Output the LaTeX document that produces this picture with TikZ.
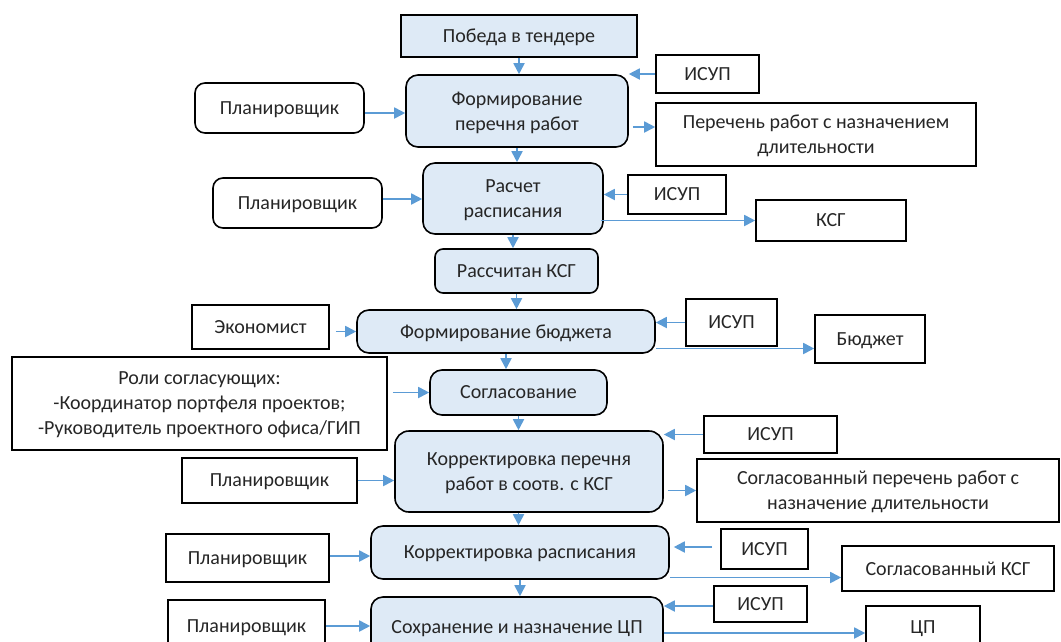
\documentclass[tikz,border=0pt]{standalone}
\usepackage{fontspec}
\setmainfont{Carlito}
\usepackage{tikz}
\usetikzlibrary{arrows.meta}
\definecolor{boxblue}{HTML}{DEEAF6}
\definecolor{flowblue}{HTML}{5B9BD5}

\begin{document}
\begin{tikzpicture}[x=1pt,y=-1pt,
    font=\fontsize{20}{25}\selectfont,
    every node/.style={text=black!85, inner sep=0pt, align=center, text depth=0pt},
    evt/.style={draw, line width=1.6pt, fill=boxblue},
    proc/.style={draw, line width=1.6pt, fill=boxblue, rounded corners=12pt},
    actor/.style={draw, line width=1.6pt, rounded corners=10pt},
    ext/.style={draw, line width=1.6pt},
    flow/.style={draw=flowblue, line width=1.8pt, -{Triangle[length=11pt,width=11pt]}, flowblue}
    ]
    \useasboundingbox (0,0) rectangle (1061,641);
    \clip (0,0) rectangle (1061,641);
    % main chain
    \node[evt, minimum width=236, minimum height=42] (pobeda) at (519,36) {Победа в тендере};
    \node[proc, minimum width=222, minimum height=72] (form1) at (517,111) {Формирование\\перечня работ};
    \node[proc, minimum width=180, minimum height=71] (raschet) at (513,198.5) {Расчет\\расписания};
    \node[proc, minimum width=163, minimum height=44, rounded corners=8pt] (rasschitan) at (516.5,271) {Рассчитан КСГ};
    \node[proc, minimum width=298, minimum height=43] (bform) at (506,331.5) {Формирование бюджета};
    \node[proc, minimum width=177, minimum height=45] (soglas) at (518.5,392.5) {Согласование};
    \node[proc, minimum width=268, minimum height=81, rounded corners=14pt] (korr1) at (529,471.5) {Корректировка перечня\\работ в соотв. с КСГ};
    \node[proc, minimum width=298, minimum height=53] (korr2) at (520,552.5) {Корректировка расписания};
    \node[proc, minimum width=292, minimum height=60] (sohr) at (517,627) {Сохранение и назначение ЦП};
    % roles on the left
    \node[actor, minimum width=169, minimum height=50] (plan1) at (279.5,108) {Планировщик};
    \node[actor, minimum width=169, minimum height=50] (plan2) at (297.5,203) {Планировщик};
    \node[ext, minimum width=137, minimum height=44] (ekon) at (260.5,327) {Экономист};
    \node[ext, minimum width=375, minimum height=93] (roli) at (199.5,403.5) {Роли согласующих:\\-Координатор портфеля проектов;\\-Руководитель проектного офиса/ГИП};
    \node[ext, minimum width=175, minimum height=45] (plan3) at (269.5,480.5) {Планировщик};
    \node[ext, minimum width=163, minimum height=48] (plan4) at (247.5,558) {Планировщик};
    \node[ext, minimum width=157, minimum height=52] (plan5) at (246.5,626) {Планировщик};
    % systems and results on the right
    \node[ext, minimum width=103, minimum height=38] (isup1) at (707.5,74) {ИСУП};
    \node[ext, minimum width=320, minimum height=63] (perechen) at (816,134.5) {Перечень работ с назначением\\длительности};
    \node[ext, minimum width=98, minimum height=39] (isup2) at (677,194.5) {ИСУП};
    \node[ext, minimum width=150, minimum height=41] (ksg) at (831,220.5) {КСГ};
    \node[ext, minimum width=91, minimum height=47] (isup3) at (731.5,322.5) {ИСУП};
    \node[ext, minimum width=110, minimum height=48] (budget) at (870,339) {Бюджет};
    \node[ext, minimum width=133, minimum height=37] (isup4) at (770.5,434.5) {ИСУП};
    \node[ext, minimum width=362, minimum height=63] (soglper) at (878,490.5) {Согласованный перечень работ с\\назначение длительности};
    \node[ext, minimum width=87, minimum height=40] (isup5) at (764.5,549) {ИСУП};
    \node[ext, minimum width=212, minimum height=45] (soglksg) at (948,568.5) {Согласованный КСГ};
    \node[ext, minimum width=93, minimum height=36] (isup6) at (760.5,604) {ИСУП};
    \node[ext, minimum width=114, minimum height=42] (cp) at (923,627) {ЦП};
    % down the chain
    \draw[flow] (pobeda.south) -- (pobeda.south |- form1.north);
    \draw[flow] (form1.south) -- (form1.south |- raschet.north);
    \draw[flow] (raschet.south) -- (raschet.south |- rasschitan.north);
    \draw[flow] (rasschitan.south) -- (rasschitan.south |- bform.north);
    \draw[flow] (bform.south) -- (bform.south |- soglas.north);
    \draw[flow] (soglas.south) -- (soglas.south |- korr1.north);
    \draw[flow] (korr1.south -| soglas.south) -- (soglas.south |- korr2.north);
    \draw[flow] (korr2.south) -- (korr2.south |- sohr.north);
    % inputs from the left
    \draw[flow] ([yshift=-5pt]plan1.east) -- ([yshift=-5pt]plan1.east -| form1.west);
    \draw[flow] ([yshift=4pt]plan2.east) -- ([yshift=4pt]plan2.east -| raschet.west);
    \draw[flow] ([xshift=6pt]ekon.east |- bform.west) -- (bform.west);
    \draw[flow] ([xshift=5pt]roli.east |- soglas.west) -- (soglas.west);
    \draw[flow] (plan3.east) -- (plan3.east -| korr1.west);
    \draw[flow] ([yshift=2pt]plan4.east) -- ([yshift=2pt]plan4.east -| korr2.west);
    \draw[flow] (plan5.east) -- (plan5.east -| sohr.west);
    % ИСУП inputs
    \draw[flow] (isup1.west) -- (isup1.west -| form1.east);
    \draw[flow] (isup2.west) -- (isup2.west -| raschet.east);
    \draw[flow] (isup3.west) -- (isup3.west -| bform.east);
    \draw[flow] (isup4.west) -- (isup4.west -| korr1.east);
    \draw[flow] ([xshift=-8pt,yshift=2pt]isup5.west) -- ([xshift=4pt,yshift=2pt]isup5.west -| korr2.east);
    \draw[flow] ([yshift=-2pt]isup6.west) -- ([yshift=-2pt]isup6.west -| sohr.east);
    % outputs
    \draw[flow] ([xshift=4pt,yshift=-16pt]form1.east) -- ([yshift=-16pt]form1.east -| perechen.west);
    \draw[flow] ([xshift=-3pt]raschet.east |- ksg.west) -- (ksg.west);
    \draw[flow] ([yshift=-17pt]bform.east) -- ([yshift=-17pt]bform.east -| budget.west);
    \draw[flow] ([xshift=4pt]korr1.east |- soglper.west) -- (soglper.west);
    \draw[flow] ([yshift=-25pt]korr2.east) -- ([yshift=-25pt]korr2.east -| soglksg.west);
    \draw[flow] ([yshift=-6pt]sohr.east) -- ([yshift=-6pt]sohr.east -| cp.west);
\end{tikzpicture}
\end{document}
